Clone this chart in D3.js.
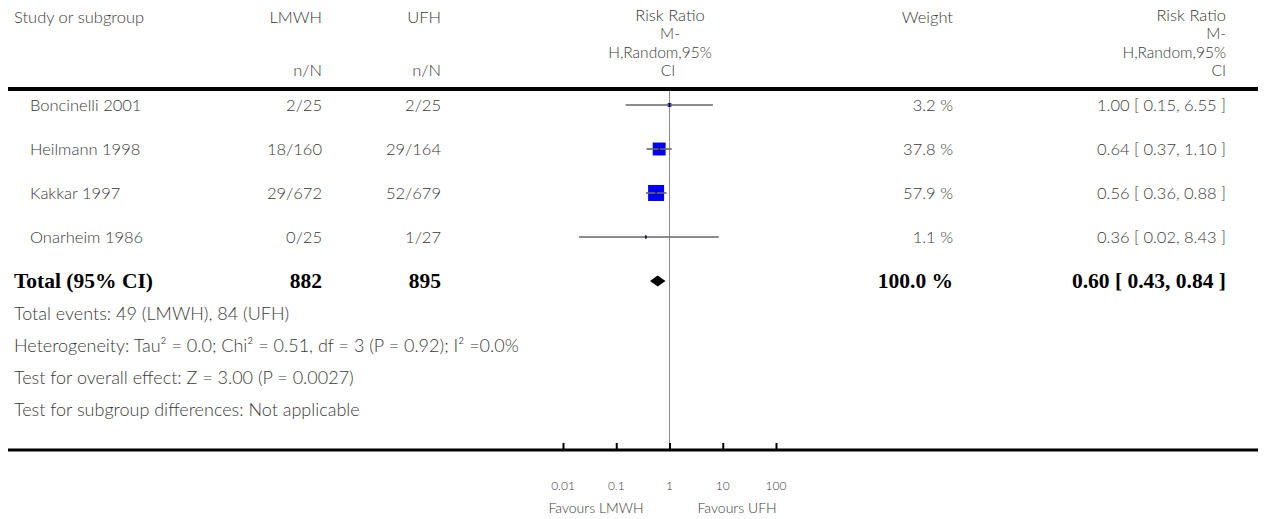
<!DOCTYPE html>
<html>
<head>
<meta charset="utf-8">
<script src="https://cdn.jsdelivr.net/npm/d3@7"></script>
<style>
  html, body { margin: 0; padding: 0; background: #fff; }
  svg { display: block; }
  .t { font-family: Lato, "Open Sans", sans-serif; font-size: 16.5px; font-weight: 300; fill: #3a3a3a; }
  .h { font-family: Lato, "Open Sans", sans-serif; font-size: 15.5px; font-weight: 300; fill: #3a3a3a; }
  .f { font-family: Lato, "Open Sans", sans-serif; font-size: 18px; font-weight: 300; fill: #3a3a3a; }
  .b { font-family: "Liberation Serif", "DejaVu Serif", serif; font-size: 21.5px; font-weight: bold; fill: #000; }
  .ax { font-family: Lato, "Open Sans", sans-serif; font-size: 12px; font-weight: 300; fill: #3a3a3a; }
  .fv { font-family: Lato, "Open Sans", sans-serif; font-size: 14px; font-weight: 300; fill: #3a3a3a; }
</style>
</head>
<body>
<svg id="chart" width="1270" height="519"></svg>
<script>
// ---------------- data ----------------
const studies   = ["Boncinelli 2001", "Heilmann 1998", "Kakkar 1997", "Onarheim 1986"];
const lmwhEvents = [2, 18, 29, 0];
const lmwhTotal  = [25, 160, 672, 25];
const ufhEvents  = [2, 29, 52, 1];
const ufhTotal   = [25, 164, 679, 27];
const weights    = [3.2, 37.8, 57.9, 1.1];
const rr         = [1.00, 0.64, 0.56, 0.36];
const rrLow      = [0.15, 0.37, 0.36, 0.02];
const rrHigh     = [6.55, 1.10, 0.88, 8.43];

const totalLabel = "Total (95% CI)";
const totalN     = [882, 895];
const totalWeight = 100.0;
const totalRR    = [0.60, 0.43, 0.84];

const footnotes = [
  "Total events: 49 (LMWH), 84 (UFH)",
  "Heterogeneity: Tau² = 0.0; Chi² = 0.51, df = 3 (P = 0.92); I² =0.0%",
  "Test for overall effect: Z = 3.00 (P = 0.0027)",
  "Test for subgroup differences: Not applicable"
];

const tickValues = [0.01, 0.1, 1, 10, 100];
const tickLabels = ["0.01", "0.1", "1", "10", "100"];
const favours = ["Favours LMWH", "Favours UFH"];

// ---------------- layout ----------------
const svg = d3.select("#chart");
const x = d3.scaleLog().domain([0.01, 100]).range([563, 776]);
const rowKeys = studies.concat([totalLabel]);
const y = d3.scalePoint().domain(rowKeys).range([105, 281]);
const fmt2 = d3.format(".2f");

const colStudyHdr = 14, colStudy = 30, colE = 322, colC = 441, colW = 953, colRR = 1226;
const lineL = 8, lineR = 1258;

// header
const hdr = svg.append("g");
hdr.append("text").attr("class", "t").attr("x", colStudyHdr).attr("y", 23).text("Study or subgroup");
hdr.append("text").attr("class", "t").attr("x", colE).attr("y", 23).attr("text-anchor", "end").text("LMWH");
hdr.append("text").attr("class", "t").attr("x", colC).attr("y", 23).attr("text-anchor", "end").text("UFH");
hdr.append("text").attr("class", "t").attr("x", colE).attr("y", 76).attr("text-anchor", "end").text("n/N");
hdr.append("text").attr("class", "t").attr("x", colC).attr("y", 76).attr("text-anchor", "end").text("n/N");
hdr.append("text").attr("class", "t").attr("x", colW).attr("y", 23).attr("text-anchor", "end").text("Weight");

const rrHdr = ["Risk Ratio", "M-", "H,Random,95%", "CI"];
const rrHdrY = [21, 39.3, 57.7, 76];
const midX = [670, 670, 660, 668];
rrHdr.forEach((s, i) => {
  const cls = i === 0 ? "t" : "h";
  hdr.append("text").attr("class", cls).attr("x", midX[i]).attr("y", rrHdrY[i]).attr("text-anchor", "middle").text(s);
  hdr.append("text").attr("class", cls).attr("x", colRR).attr("y", rrHdrY[i]).attr("text-anchor", "end").text(s);
});

svg.append("line").attr("x1", lineL).attr("x2", lineR).attr("y1", 89).attr("y2", 89)
  .attr("stroke", "#000").attr("stroke-width", 4);

// vertical reference line at 1
svg.append("line").attr("x1", x(1)).attr("x2", x(1)).attr("y1", 91).attr("y2", 449)
  .attr("stroke", "#8a8a8a").attr("stroke-width", 1);

// study rows
const rows = svg.append("g");
studies.forEach((s, i) => {
  const yy = y(s);
  rows.append("text").attr("class", "t").attr("x", colStudy).attr("y", yy + 6).text(s);
  rows.append("text").attr("class", "t").attr("x", colE).attr("y", yy + 6).attr("text-anchor", "end")
    .text(lmwhEvents[i] + "/" + lmwhTotal[i]);
  rows.append("text").attr("class", "t").attr("x", colC).attr("y", yy + 6).attr("text-anchor", "end")
    .text(ufhEvents[i] + "/" + ufhTotal[i]);
  rows.append("text").attr("class", "t").attr("x", colW).attr("y", yy + 6).attr("text-anchor", "end")
    .text(weights[i].toFixed(1) + " %");
  rows.append("text").attr("class", "t").attr("x", colRR).attr("y", yy + 6).attr("text-anchor", "end")
    .text(fmt2(rr[i]) + " [ " + fmt2(rrLow[i]) + ", " + fmt2(rrHigh[i]) + " ]");

  const side = 2.1 * Math.sqrt(weights[i]);
  rows.append("rect").attr("x", x(rr[i]) - side / 2).attr("y", yy - side / 2)
    .attr("width", side).attr("height", side).attr("fill", "#0000ff");
  rows.append("line").attr("x1", x(rrLow[i])).attr("x2", x(rrHigh[i])).attr("y1", yy).attr("y2", yy)
    .attr("stroke", "#666").attr("stroke-width", 1.6);
  rows.append("line").attr("x1", x(rr[i])).attr("x2", x(rr[i])).attr("y1", yy - 2).attr("y2", yy + 2)
    .attr("stroke", "#000").attr("stroke-width", 1);
});

// total row
const ty = y(totalLabel);
rows.append("text").attr("class", "b").attr("x", colStudyHdr).attr("y", ty + 7).text(totalLabel);
rows.append("text").attr("class", "b").attr("x", colE).attr("y", ty + 7).attr("text-anchor", "end").text(totalN[0]);
rows.append("text").attr("class", "b").attr("x", colC).attr("y", ty + 7).attr("text-anchor", "end").text(totalN[1]);
rows.append("text").attr("class", "b").attr("x", colW).attr("y", ty + 7).attr("text-anchor", "end").text(totalWeight.toFixed(1) + " %");
rows.append("text").attr("class", "b").attr("x", colRR).attr("y", ty + 7).attr("text-anchor", "end")
  .text(fmt2(totalRR[0]) + " [ " + fmt2(totalRR[1]) + ", " + fmt2(totalRR[2]) + " ]");
const dh = 5.5;
rows.append("path")
  .attr("d", `M${x(totalRR[1])},${ty} L${x(totalRR[0])},${ty - dh} L${x(totalRR[2])},${ty} L${x(totalRR[0])},${ty + dh} Z`)
  .attr("fill", "#000");

// footnotes
footnotes.forEach((f, i) => {
  svg.append("text").attr("class", "f").attr("x", colStudyHdr).attr("y", 320 + i * 32).text(f);
});

// axis
svg.append("line").attr("x1", lineL).attr("x2", lineR).attr("y1", 450).attr("y2", 450)
  .attr("stroke", "#000").attr("stroke-width", 3);
const axis = d3.axisTop(x).tickValues(tickValues).tickSize(6).tickFormat("");
const ag = svg.append("g").attr("transform", "translate(0,449)").call(axis);
ag.select(".domain").remove();
ag.selectAll(".tick line").attr("stroke", "#000").attr("stroke-width", 2);
tickValues.forEach((v, i) => {
  svg.append("text").attr("class", "ax").attr("x", x(v)).attr("y", 490).attr("text-anchor", "middle").text(tickLabels[i]);
});
svg.append("text").attr("class", "fv").attr("x", x(1) - 26).attr("y", 513).attr("text-anchor", "end").text(favours[0]);
svg.append("text").attr("class", "fv").attr("x", x(1) + 28).attr("y", 513).attr("text-anchor", "start").text(favours[1]);
</script>
</body>
</html>
